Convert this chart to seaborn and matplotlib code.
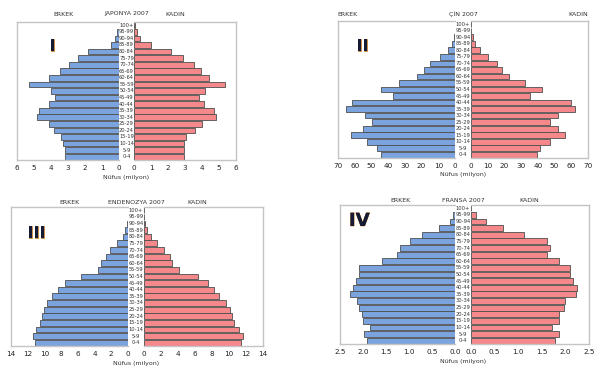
import numpy as np
import pandas as pd
import matplotlib
matplotlib.use("Agg")
import matplotlib.pyplot as plt
import matplotlib.patheffects as pe
from matplotlib.transforms import blended_transform_factory
import seaborn as sns

sns.set_theme(style="white")
plt.rcParams['font.family'] = ['DejaVu Sans']

# age groups, top to bottom
ages = ["100+", "95-99", "90-94", "85-89", "80-84", "75-79", "70-74", "65-69",
        "60-64", "55-59", "50-54", "45-49", "40-44", "35-39", "30-34", "25-29",
        "20-24", "15-19", "10-14", "5-9", "0-4"]

# values listed from 0-4 up to 100+ (millions)
japan_m = [3.2, 3.2, 3.3, 3.4, 3.8, 4.1, 4.8, 4.7, 4.1, 3.75, 4.0, 5.3, 4.1, 3.5,
           2.95, 2.4, 1.8, 0.5, 0.25, 0.1, 0.02]
japan_f = [2.93, 2.93, 2.95, 3.05, 3.6, 4.0, 4.8, 4.7, 4.1, 3.8, 4.2, 5.35, 4.4, 3.95,
           3.5, 2.9, 2.2, 1.0, 0.37, 0.2, 0.03]
china_m = [44, 46.5, 52.5, 62, 55, 49.7, 54, 65, 61.6, 37, 44, 33.6, 23, 18.3,
           14.7, 8.7, 4.2, 1.6, 0.6, 0.1, 0.02]
china_f = [39.2, 41.2, 47.3, 56.5, 52.3, 47.5, 51.9, 62, 59.8, 35.2, 42.3, 32.4, 22.5,
           18.5, 15.7, 10.3, 5.6, 2.6, 1.0, 0.2, 0.03]
indo_m = [11.15, 11.35, 10.95, 10.5, 10.25, 10.05, 9.65, 9.15, 8.35, 7.5, 5.65, 3.6,
          3.2, 2.6, 2.1, 1.3, 0.6, 0.3, 0.1, 0.03, 0.01]
indo_f = [11.4, 11.6, 11.2, 10.55, 10.3, 10.1, 9.7, 8.85, 8.25, 7.55, 6.4, 4.1, 3.35,
          3.05, 2.35, 1.5, 0.8, 0.4, 0.12, 0.03, 0.01]
france_m = [1.92, 1.98, 1.85, 2.0, 2.03, 2.09, 2.14, 2.28, 2.22, 2.16, 2.09, 2.09, 1.59,
            1.27, 1.19, 0.97, 0.71, 0.35, 0.11, 0.04, 0.005]
france_f = [1.78, 1.86, 1.71, 1.86, 1.86, 1.96, 1.99, 2.23, 2.24, 2.17, 2.1, 2.1, 1.86,
            1.6, 1.67, 1.6, 1.12, 0.68, 0.32, 0.11, 0.01]

W, H = 604, 383
BLUE = "#7ba3dd"
RED = "#f4888b"
EDGE = "#4d4d4d"
SPINE = "#c4c4c4"

fig = plt.figure(figsize=(W / 100, H / 100), dpi=100)


def rect(x0, x1, yt, yb):
    return [x0 / W, 1 - yb / H, (x1 - x0) / W, (yb - yt) / H]


def half(box, vals, color, xmax, ticks, fmt, left):
    ax = fig.add_axes(rect(*box))
    df = pd.DataFrame({"age": ages, "v": vals[::-1]})
    sns.barplot(data=df, x="v", y="age", order=ages, orient="h", ax=ax,
                color=color, edgecolor=EDGE, linewidth=0.6, width=0.88,
                saturation=1)
    ax.set_xlim((xmax, 0) if left else (0, xmax))
    ax.set_ylim(len(ages) - 0.5, -0.5)
    ax.set_xticks(ticks)
    ax.set_xticklabels([fmt.format(t) for t in ticks], fontsize=5.2, color="#222222")
    ax.set_yticks([])
    ax.set_xlabel("")
    ax.set_ylabel("")
    ax.tick_params(axis="x", length=2, width=0.5, color="#888888", pad=1.5)
    for s in ax.spines.values():
        s.set_color(SPINE)
        s.set_linewidth(1.0)
    ax.spines["right" if left else "left"].set_visible(False)
    return ax


def pyramid(male, female, lbox, rbox, xmax, ticks, fmt, country, titles_y,
            erkek_x, erkek_ha, kadin_x, kadin_ha, xlabel_y, roman, roman_xy, roman_fs):
    axl = half(lbox, male, BLUE, xmax, ticks, fmt, True)
    half(rbox, female, RED, xmax, ticks, fmt, False)
    cx = (lbox[1] + rbox[0]) / 2
    tr = blended_transform_factory(fig.transFigure, axl.transData)
    for i, a in enumerate(ages):
        axl.text(cx / W, i, a, transform=tr, ha="center", va="center",
                 fontsize=3.7, color="#333333", clip_on=False)
    ty = 1 - titles_y / H
    fig.text(erkek_x / W, ty, "ERKEK", ha=erkek_ha, va="center", fontsize=4.5, color="#333333")
    fig.text(cx / W, ty, country, ha="center", va="center", fontsize=4.5, color="#333333")
    fig.text(kadin_x / W, ty, "KADIN", ha=kadin_ha, va="center", fontsize=4.5, color="#333333")
    fig.text(cx / W, 1 - xlabel_y / H, "Nüfus (milyon)", ha="center", va="center",
             fontsize=4.5, color="#333333")
    fig.text(roman_xy[0] / W, 1 - roman_xy[1] / H, roman, ha="left", va="center",
             fontsize=roman_fs, fontweight="bold", color="#151b35",
             path_effects=[pe.withStroke(linewidth=0.5, foreground="#e8902a"), pe.Normal()])


pyramid(japan_m, japan_f, (17, 119, 22, 160), (134, 236, 22, 160), 6,
        [6, 5, 4, 3, 2, 1, 0], "{:g}", "JAPONYA 2007", 14,
        63, "center", 175, "center", 178, "I", (49, 46), 12)
pyramid(china_m, china_f, (338, 455, 21, 158), (471, 588, 21, 158), 70,
        [70, 60, 50, 40, 30, 20, 10, 0], "{:g}", "ÇİN 2007", 14,
        337, "left", 588, "right", 175, "II", (356, 46), 12)
pyramid(indo_m, indo_f, (11, 128, 207, 346), (144, 263, 207, 346), 14,
        [14, 12, 10, 8, 6, 4, 2, 0], "{:g}", "ENDENOZYA 2007", 202,
        70, "center", 197, "center", 364, "III", (27, 233), 12)
pyramid(france_m, france_f, (340, 455, 205, 344), (471, 589, 205, 344), 2.5,
        [2.5, 2.0, 1.5, 1.0, 0.5, 0.0], "{:.1f}", "FRANSA 2007", 200,
        400, "center", 529, "center", 362, "IV", (349, 221), 13)

fig.savefig("out.png", dpi=100, facecolor="white")
